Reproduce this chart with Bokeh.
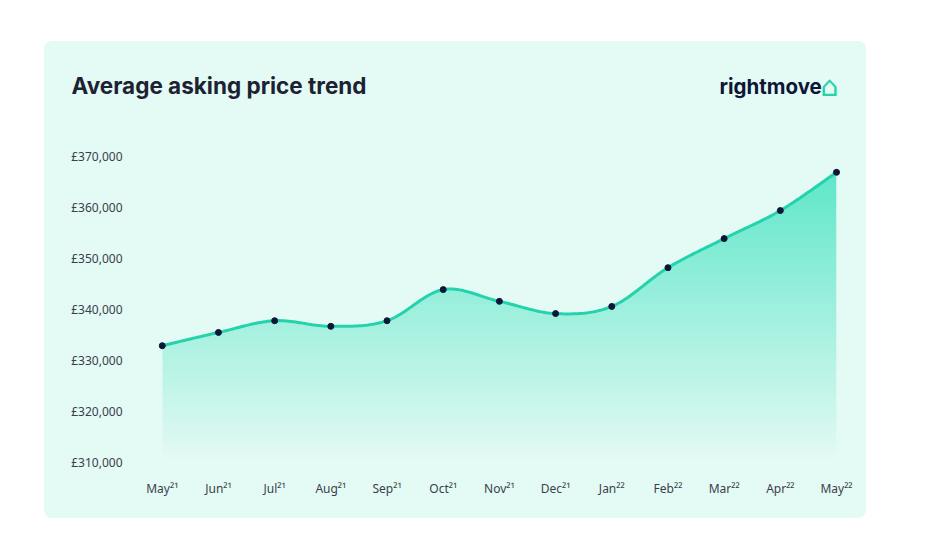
import numpy as np
from bokeh.plotting import figure
from bokeh.models import FixedTicker, Label, Range1d, Spacer
from bokeh.layouts import column, row
from bokeh.embed import file_html
from bokeh.resources import INLINE

# ---- data ----
months = ["May²¹", "Jun²¹", "Jul²¹", "Aug²¹", "Sep²¹", "Oct²¹", "Nov²¹",
          "Dec²¹", "Jan²²", "Feb²²", "Mar²²", "Apr²²", "May²²"]
prices = [332900, 335500, 337800, 336700, 337800, 343900, 341600,
          339200, 340600, 348200, 353900, 359400, 366900]
y_ticks = [310000, 320000, 330000, 340000, 350000, 360000, 370000]
y_tick_labels = ["£310,000", "£320,000", "£330,000", "£340,000",
                 "£350,000", "£360,000", "£370,000"]

CARD_BG = "#e4faf4"
LINE_C = "#22d3ab"
FILL_C = (94, 230, 200)
DOT_C = "#0b1736"
TEXT_C = "#3a3f4c"

xs = np.arange(len(months), dtype=float)
ys = np.array(prices, dtype=float)

# Catmull-Rom (cardinal, tension 0) smooth path through the data points
def smooth(x, y, n=24):
    px = np.concatenate([[x[0]], x, [x[-1]]])
    py = np.concatenate([[y[0]], y, [y[-1]]])
    outx, outy = [], []
    for i in range(1, len(px) - 2):
        p0 = np.array([px[i], py[i]])
        p3 = np.array([px[i + 1], py[i + 1]])
        c1 = p0 + (p3 - np.array([px[i - 1], py[i - 1]])) / 6.0
        c2 = p3 - (np.array([px[i + 2], py[i + 2]]) - p0) / 6.0
        t = np.linspace(0, 1, n, endpoint=(i == len(px) - 3))[:, None]
        pts = ((1 - t) ** 3) * p0 + 3 * ((1 - t) ** 2) * t * c1 + 3 * (1 - t) * t ** 2 * c2 + t ** 3 * p3
        outx.extend(pts[:, 0]); outy.extend(pts[:, 1])
    return np.array(outx), np.array(outy)

cx, cy = smooth(xs, ys)

W = 822
HH = 70          # header height
H = 477 - HH     # chart height
FL, FB = 88, 49
y0, y1 = 308627, 377255

# ---- header (title + logo) ----
hdr = figure(width=W, height=HH, output_backend="svg", toolbar_location=None,
             x_range=Range1d(0, W), y_range=Range1d(0, HH),
             x_axis_location=None, y_axis_location=None,
             min_border=0, background_fill_alpha=0, border_fill_alpha=0,
             outline_line_color=None, frame_align=False)
hdr.grid.visible = False
hdr.add_layout(Label(x=27, y=HH - 44, x_units="screen", y_units="screen",
                     text="Average asking price trend", text_font="Inter",
                     text_font_style="bold", text_font_size="22.5px",
                     text_color="#1d2233", text_baseline="alphabetic"))
hdr.add_layout(Label(x=675, y=HH - 45, x_units="screen", y_units="screen",
                     text="rightmove", text_font="Inter",
                     text_font_style="bold", text_font_size="20.5px",
                     text_color="#0f1537", text_baseline="alphabetic"))
hdr.add_layout(Label(x=776, y=HH - 45, x_units="screen", y_units="screen",
                     text="⌂", text_font="DejaVu Sans",
                     text_font_size="28px",
                     text_color=LINE_C, text_baseline="alphabetic"))

# ---- chart ----
p = figure(width=W, height=H, output_backend="svg", toolbar_location=None,
           x_range=Range1d(-0.53, 12.32), y_range=Range1d(y0, y1),
           min_border_left=FL, min_border_right=12, min_border_top=8,
           min_border_bottom=FB,
           background_fill_alpha=0, border_fill_alpha=0,
           outline_line_color=None, frame_align=False)
p.grid.visible = False

# gradient fill under the curve
rows = 300
top = max(prices)
base = y_ticks[0]
img = np.zeros((rows, 2), dtype=np.uint32)
view = img.view(dtype=np.uint8).reshape((rows, 2, 4))
for r in range(rows):
    a = r / (rows - 1)
    view[r, :, 0] = FILL_C[0]
    view[r, :, 1] = FILL_C[1]
    view[r, :, 2] = FILL_C[2]
    view[r, :, 3] = int(255 * a)
p.image_rgba(image=[img], x=xs[0], y=base, dw=xs[-1] - xs[0], dh=top - base)
# mask everything above the curve (and beside it)
mx = np.concatenate([[-2.0, xs[0] - 1e-6], cx, [xs[-1] + 1e-6, 14.0]])
my = np.concatenate([[y0 - 5000, y0 - 5000], cy, [y0 - 5000, y0 - 5000]])
p.varea(x=mx, y1=my, y2=y1 + 5000, fill_color=CARD_BG, fill_alpha=1.0)

p.line(cx, cy, line_color=LINE_C, line_width=3)
p.scatter(xs, ys, size=6, color=DOT_C)

# axes
p.xaxis.ticker = FixedTicker(ticks=list(xs))
p.xaxis.major_label_overrides = {float(i): m for i, m in enumerate(months)}
p.yaxis.ticker = FixedTicker(ticks=y_ticks)
p.yaxis.major_label_overrides = {t: l for t, l in zip(y_ticks, y_tick_labels)}
for ax in (p.xaxis, p.yaxis):
    ax.axis_line_color = None
    ax.major_tick_line_color = None
    ax.minor_tick_line_color = None
    ax.major_tick_out = 0
    ax.major_tick_in = 0
    ax.minor_tick_out = 0
    ax.major_label_text_font = "Noto Sans"
    ax.major_label_text_font_size = "12px"
    ax.major_label_text_color = TEXT_C
    ax.major_label_standoff = 10

card = column(hdr, p, spacing=0,
              styles={"background-color": CARD_BG, "border-radius": "8px"})
layout = column(Spacer(height=41), row(Spacer(width=44), card), spacing=0)
open("out.html", "w").write(file_html(layout, INLINE))
